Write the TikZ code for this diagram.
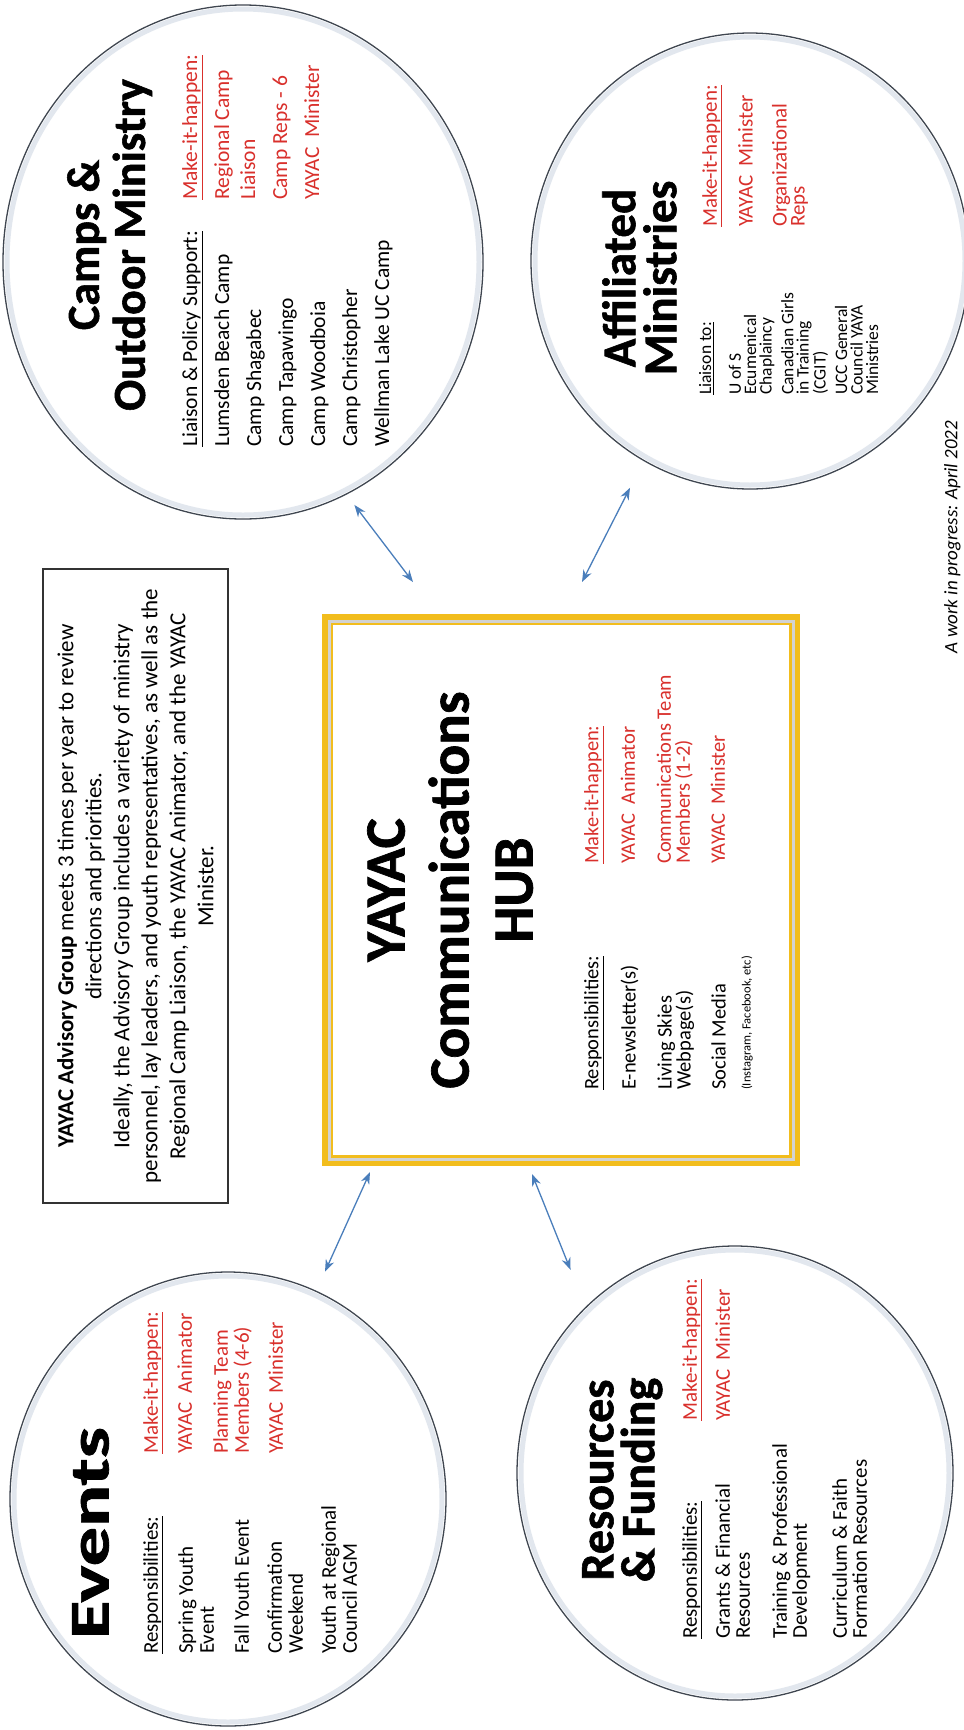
\documentclass[tikz,border=0pt]{standalone}
\usepackage{fontspec}
\setmainfont{Carlito}
\newfontfamily\ttlfont{Carlito}[BoldFeatures={FakeBold=1.2}]
\usepackage{graphicx}
\usetikzlibrary{arrows.meta,shapes.geometric,calc}
\definecolor{hubgold}{HTML}{F2BD1D}
\definecolor{linkblue}{HTML}{4A7EBB}
\definecolor{makered}{HTML}{D9302C}
\definecolor{rimgrey}{HTML}{3F4650}
\definecolor{glowgrey}{HTML}{E2E7EE}

\newcommand{\fsz}[2]{\fontsize{#1}{#2}\selectfont}

\begin{document}
\begin{tikzpicture}[x=1pt, y=-1pt,
    circ/.style={ellipse, draw=rimgrey, line width=1.3pt, fill=white, inner sep=0pt},
    glow/.style={glowgrey, line width=5pt},
    hubbox/.style={draw=hubgold, line width=11pt, fill=white, inner sep=0pt},
    advbox/.style={draw=black!80, line width=1.2pt, fill=white, rotate=90, align=center,
                   inner sep=0pt, font=\fsz{23}{28}},
    ttl/.style={rotate=90, anchor=north, align=center, inner sep=0pt},
    lst/.style={rotate=90, anchor=north west, align=left, inner sep=0pt},
    mk/.style={text=makered},
    link/.style={linkblue, line width=1.3pt, >={Stealth[length=12pt,width=9pt]}, <->}
  ]
  \fill[white] (0,0) rectangle (964,1730);
  \useasboundingbox (0,0) rectangle (964,1730);

  % the four ministry circles
  \node[circ, minimum width=480pt, minimum height=514pt] (camps) at (243,262) {};
  \node[circ, minimum width=438pt, minimum height=456pt] (affil) at (750,261) {};
  \node[circ, minimum width=436pt, minimum height=454pt] (events) at (228,1499) {};
  \node[circ, minimum width=436pt, minimum height=454pt] (funds) at (735,1473) {};
  \foreach \n/\a/\b in {camps/236pt/253pt, affil/215pt/224pt, events/214pt/223pt, funds/214pt/223pt}
    \draw[glow] (\n.center) ellipse [x radius=\a, y radius=\b];

  % hub and advisory group
  \node[hubbox, minimum width=467pt, minimum height=541pt] (hub) at (561,890) {};
  \draw[gray!35, line width=3pt] ([xshift=7pt,yshift=-7pt]hub.north west)
    rectangle ([xshift=-7pt,yshift=7pt]hub.south east);

  \node[advbox, minimum width=634pt, minimum height=185pt] (advisory) at (135.5,886) {
    \textbf{YAYAC Advisory Group} meets 3 times per year to review\\
    directions and priorities.\\
    Ideally, the Advisory Group includes a variety of ministry\\
    personnel, lay leaders, and youth representatives, as well as the\\
    Regional Camp Liaison, the YAYAC Animator, and the YAYAC\\
    Minister.
  };

  % titles
  \node[ttl, font=\ttlfont\bfseries\fsz{46}{46}] (campsT) at (67,245) {Camps \&\\ Outdoor Ministry};
  \node[ttl, font=\ttlfont\bfseries\fsz{47}{41}] (affilT) at (602,278) {Affiliated\\ Ministries};
  \node[ttl, font=\ttlfont\bfseries\fsz{57}{64}] (hubT) at (367,890) {YAYAC\\ Communications\\ HUB};
  \node[ttl, font=\ttlfont\bfseries\fsz{56}{56}] (eventsT) at (72,1533) {\scalebox{1.4}[1]{Events}};
  \node[ttl, font=\ttlfont\bfseries\fsz{48}{41}] (fundsT) at (582,1480) {Resources\\ \& Funding};

  % camps
  \node[lst, font=\fsz{21.5}{26}] (campsLst) at (182,447) {
    \underline{Liaison \& Policy Support:}\\[6pt] Lumsden Beach Camp\\[6pt] Camp Shagabec\\[6pt]
    Camp Tapawingo\\[6pt] Camp Woodboia\\[6pt] Camp Christopher\\[6pt] Wellman Lake UC Camp};
  \node[lst, mk, font=\fsz{21.5}{26}] (campsMk) at (182,200) {
    \underline{Make-it-happen:}\\[6pt] Regional Camp\\ Liaison\\[6pt] Camp Reps - 6\\[6pt] YAYAC\ \ Minister};

  % affiliated
  \node[lst, font=\fsz{17.5}{15.5}] (affilLst) at (699,395) {
    \underline{Liaison to:}\\[14pt] U of S\\ Ecumenical\\ Chaplaincy\\[6pt]
    Canadian Girls\\ in Training\\ (CGIT)\\[6pt] UCC General\\ Council YAYA\\ Ministries};
  \node[lst, mk, font=\fsz{21}{18}] (affilMk) at (702,227) {
    \underline{Make-it-happen:}\\[15pt] YAYAC\ \ Minister\\[16pt] Organizational\\ Reps};

  % hub
  \node[lst, font=\fsz{20.5}{19}] (hubLst) at (584,1090) {
    \underline{Responsibilities:}\\[16pt] E-newsletter(s)\\[17pt] Living Skies\\ Webpage(s)\\[16pt]
    Social Media\\[6pt] {\fsz{12.5}{12.5}(Instagram, Facebook, etc)}};
  \node[lst, mk, font=\fsz{20.5}{19}] (hubMk) at (584,864) {
    \underline{Make-it-happen:}\\[16pt] YAYAC\ \ Animator\\[17pt] Communications Team\\
    Members (1-2)\\[16pt] YAYAC\ \ Minister};

  % events
  \node[lst, font=\fsz{21}{21}] (eventsLst) at (143,1654) {
    \underline{Responsibilities:}\\[14pt] Spring Youth\\ Event\\[14pt] Fall Youth Event\\[12pt]
    Confirmation\\ Weekend\\[12pt] Youth at Regional\\ Council AGM};
  \node[lst, mk, font=\fsz{21}{21}] (eventsMk) at (143,1454) {
    \underline{Make-it-happen:}\\[13pt] YAYAC\ \ Animator\\[15pt] Planning Team\\ Members (4-6)\\[13pt]
    YAYAC\ \ Minister};

  % resources
  \node[lst, font=\fsz{21}{20}] (fundsLst) at (682,1639) {
    \underline{Responsibilities:}\\[13pt] Grants \& Financial\\ Resources\\[17pt]
    Training \& Professional\\ Development\\[20pt] Curriculum \& Faith\\ Formation Resources};
  \node[lst, mk, font=\fsz{21}{20}] (fundsMk) at (682,1421) {
    \underline{Make-it-happen:}\\[13pt] YAYAC\ \ Minister};

  \node[ttl, font=\itshape\fsz{19}{19}] (note) at (944,537) {A work in progress: April 2022};

  % links to the hub
  \draw[link, shorten <=13pt] (camps.-66.4) -- ([shift={(91,-32)}]hub.north west);
  \draw[link, shorten <=30pt] (affil.-118.2) -- ([shift={(260,-32)}]hub.north west);
  \draw[link, shorten <=21pt] (events.67.9) -- ([shift={(48,6)}]hub.south west);
  \draw[link, shorten <=40pt] (funds.132.3) -- ([shift={(210,8)}]hub.south west);
\end{tikzpicture}
\end{document}
